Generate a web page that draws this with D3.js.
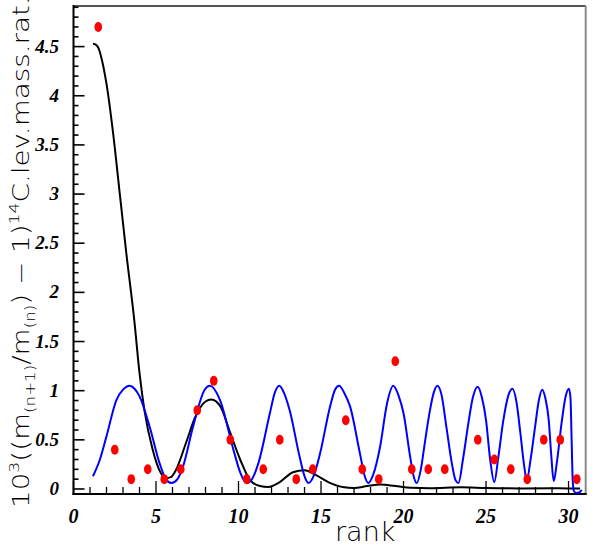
<!DOCTYPE html>
<html>
<head>
<meta charset="utf-8">
<script src="https://cdn.jsdelivr.net/npm/d3@7"></script>
<style>
  body { margin: 0; background: #fff; }
  svg { display: block; }
</style>
</head>
<body>
<div id="plot"></div>
<script>
// measured mass ratio points (red)
var rankX = [1.5, 2.5, 3.5, 4.5, 5.5, 6.5, 7.5, 8.5, 9.5, 10.5, 11.5, 12.5, 13.5, 14.5,
             16.5, 17.5, 18.5, 19.5, 20.5, 21.5, 22.5, 24.5, 25.5, 26.5, 27.5, 28.5, 29.5, 30.5];
var ratioY = [4.70, 0.40, 0.10, 0.20, 0.10, 0.20, 0.80, 1.10, 0.50, 0.10, 0.20, 0.50, 0.10, 0.20,
              0.70, 0.20, 0.10, 1.30, 0.20, 0.20, 0.20, 0.50, 0.30, 0.20, 0.10, 0.50, 0.50, 0.10];

// blue oscillating curve
var blueX = [1.18, 1.6, 1.99, 2.6, 3.0, 3.4, 3.7, 4.01, 4.62, 5.22, 5.6, 5.93, 6.3, 6.64, 7.24,
             7.95, 8.27, 8.88, 9.69, 10.1, 10.5, 10.85, 11.2, 11.9, 12.2, 12.47, 12.75, 13.1, 13.7,
             14.0, 14.23, 14.55, 14.94, 15.55, 15.85, 16.1, 16.4, 16.76, 17.36, 17.65, 17.87, 18.15,
             18.58, 19.0, 19.38, 19.7, 20.0, 20.4, 20.6, 20.8, 21.05, 21.3, 21.6, 21.85, 22.05, 22.3,
             22.6, 22.95, 23.15, 23.33, 23.6, 23.93, 24.2, 24.5, 24.75, 25.0, 25.25, 25.5, 25.75,
             26.05, 26.35, 26.6, 26.85, 27.06, 27.3, 27.47, 27.7, 27.97, 28.2, 28.4, 28.6, 28.8,
             28.95, 29.1, 29.3, 29.6, 29.85, 30.03, 30.12, 30.18, 30.25, 30.32, 30.48, 30.65, 30.8];
var blueY = [0.13, 0.30, 0.53, 0.905, 1.01, 1.05, 1.02, 0.94, 0.63, 0.26, 0.10, 0.06, 0.10, 0.23, 0.63,
             1.01, 1.05, 0.905, 0.40, 0.17, 0.06, 0.11, 0.26, 0.77, 0.98, 1.05, 0.98, 0.80, 0.33,
             0.13, 0.06, 0.13, 0.36, 0.84, 1.01, 1.05, 0.98, 0.84, 0.36, 0.13, 0.06, 0.14,
             0.43, 0.87, 1.05, 0.95, 0.77, 0.33, 0.14, 0.06, 0.20, 0.48, 0.80, 0.99, 1.05, 0.96,
             0.63, 0.24, 0.09, 0.06, 0.30, 0.67, 0.93, 1.04, 0.93, 0.70, 0.30, 0.07, 0.33,
             0.70, 0.95, 1.02, 0.88, 0.60, 0.25, 0.09, 0.30, 0.63, 0.90, 1.01, 0.92, 0.70,
             0.35, 0.08, 0.28, 0.70, 0.96, 1.02, 0.92, 0.55, 0.10, -0.02, -0.04, -0.035, -0.01];

// black smoothed curve
var blackX = [1.18, 1.35, 1.5, 1.7, 2.0, 2.4, 2.8, 3.2, 3.7, 4.0, 4.3, 4.8, 5.3, 5.6, 5.9, 6.2,
              6.8, 7.4, 8.0, 8.35, 8.9, 9.5, 10.1, 10.7, 11.3, 11.8, 12.5, 13.3, 14.0, 14.7,
              15.5, 16.3, 17.0, 17.8, 18.6, 19.5, 20.5, 21.6, 23.5, 25.0, 27.0, 29.0, 30.0, 30.7];
var blackY = [4.53, 4.52, 4.49, 4.38, 4.12, 3.62, 3.01, 2.40, 1.69, 1.18, 0.80, 0.40, 0.16, 0.11, 0.12, 0.19,
              0.46, 0.74, 0.89, 0.91, 0.84, 0.57, 0.30, 0.09, 0.03, 0.02, 0.07, 0.17, 0.19, 0.14,
              0.065, 0.02, 0.01, 0.03, 0.045, 0.03, 0.012, 0.008, 0.018, 0.01, 0.006, 0.007, 0.006, 0.004];

var xTicks = [0, 5, 10, 15, 20, 25, 30];
var yTicks = [0, 0.5, 1, 1.5, 2, 2.5, 3, 3.5, 4, 4.5];
var yTickText = ['0', '0.5', '1', '1.5', '2', '2.5', '3', '3.5', '4', '4.5'];

var width = 603, height = 550;
var padL = 73.5, padR = 585.7, padT = 6, padB = 494;

var svg = d3.select('#plot').append('svg')
    .attr('width', width)
    .attr('height', height);

var x = d3.scaleLinear().domain([0, 31.04]).range([padL, padR]);
var y = d3.scaleLinear().domain([-0.051, 4.913]).range([padB, padT]);

svg.append('clipPath').attr('id', 'clip')
  .append('rect')
    .attr('x', padL).attr('y', padT)
    .attr('width', padR - padL).attr('height', padB - padT);

// frame: top/right grey, left/bottom black
svg.append('line').attr('x1', padL).attr('x2', padR).attr('y1', padT).attr('y2', padT)
    .attr('stroke', '#555').attr('stroke-width', 2);
svg.append('line').attr('x1', padR).attr('x2', padR).attr('y1', padT).attr('y2', padB)
    .attr('stroke', '#888').attr('stroke-width', 2);

// y axis, ticks pointing inward
var yMinor = d3.range(0, 4.91, 0.1);
svg.append('g')
  .selectAll('line')
  .data(yMinor)
  .enter()
  .append('line')
    .attr('x1', padL)
    .attr('x2', function(d) { return Math.abs(d * 2 - Math.round(d * 2)) < 1e-6 ? padL + 11 : padL + 5; })
    .attr('y1', function(d) { return y(d); })
    .attr('y2', function(d) { return y(d); })
    .attr('stroke', '#000')
    .attr('stroke-width', 1.6);

svg.append('g')
  .selectAll('text')
  .data(yTicks)
  .enter()
  .append('text')
    .attr('x', 59)
    .attr('y', function(d) { return y(d) + 6; })
    .attr('text-anchor', 'end')
    .style('font-family', 'Liberation Serif, serif')
    .style('font-weight', 'bold')
    .style('font-style', 'italic')
    .style('font-size', '19px')
    .text(function(d, i) { return yTickText[i]; });

// x axis
var xMinor = d3.range(0, 31, 1);
svg.append('g')
  .selectAll('line')
  .data(xMinor)
  .enter()
  .append('line')
    .attr('x1', function(d) { return x(d); })
    .attr('x2', function(d) { return x(d); })
    .attr('y1', padB)
    .attr('y2', function(d) { return d % 5 == 0 ? padB - 13 : padB - 7; })
    .attr('stroke', '#000')
    .attr('stroke-width', 1.3);

svg.append('g')
  .selectAll('text')
  .data(xTicks)
  .enter()
  .append('text')
    .attr('x', function(d) { return x(d); })
    .attr('y', 523)
    .attr('text-anchor', 'middle')
    .style('font-family', 'Liberation Serif, serif')
    .style('font-weight', 'bold')
    .style('font-style', 'italic')
    .style('font-size', '20px')
    .text(function(d) { return d; });

svg.append('line').attr('x1', padL).attr('x2', padL).attr('y1', padT - 1).attr('y2', padB + 1)
    .attr('stroke', '#000').attr('stroke-width', 2);
svg.append('line').attr('x1', padL - 1).attr('x2', padR + 1).attr('y1', padB).attr('y2', padB)
    .attr('stroke', '#000').attr('stroke-width', 2);

// curves
var line = d3.line()
    .x(function(d) { return x(d[0]); })
    .y(function(d) { return y(d[1]); })
    .curve(d3.curveMonotoneX);

var plot = svg.append('g').attr('clip-path', 'url(#clip)');

plot.append('path')
    .attr('d', line(d3.zip(blackX, blackY)))
    .attr('fill', 'none')
    .attr('stroke', '#000')
    .attr('stroke-width', 2);

plot.append('path')
    .attr('d', line(d3.zip(blueX, blueY)))
    .attr('fill', 'none')
    .attr('stroke', '#0000ff')
    .attr('stroke-width', 2);

plot.append('g')
  .selectAll('ellipse')
  .data(d3.zip(rankX, ratioY))
  .enter()
  .append('ellipse')
    .attr('cx', function(d) { return x(d[0]); })
    .attr('cy', function(d) { return y(d[1]); })
    .attr('rx', 3.8)
    .attr('ry', 5)
    .attr('fill', '#ff0000');

// axis titles
svg.append('text')
    .attr('x', 335)
    .attr('y', 541)
    .style('font-family', 'DejaVu Sans, sans-serif')
    .style('font-weight', 200)
    .style('font-size', '27px')
    .style('fill', '#000')
    .text('rank');

var F = 23;
var title = svg.append('text')
    .style('font-family', 'DejaVu Sans, sans-serif')
    .style('font-weight', 200)
    .style('font-size', F + 'px')
    .style('fill', '#000');
var parts = [
  ['10', 0, 1], ['3', -0.42, 0.62], ['((m', 0.42, 1], ['(n+1)', 0.3, 0.6], ['/m', -0.3, 1],
  ['(n)', 0.3, 0.6], [') \u2212 1)', -0.3, 1], ['14', -0.42, 0.62], ['C.lev.mass.rat.', 0.42, 1]
];
parts.forEach(function(p) {
  title.append('tspan')
    .attr('dy', p[1] * F)
    .style('font-size', (p[2] * F) + 'px')
    .text(p[0]);
});
var len = title.node().getComputedTextLength();
var k = 512 / len;
title.attr('transform', 'translate(28.5,508) rotate(-90) scale(' + k + ',1)');
</script>
</body>
</html>
